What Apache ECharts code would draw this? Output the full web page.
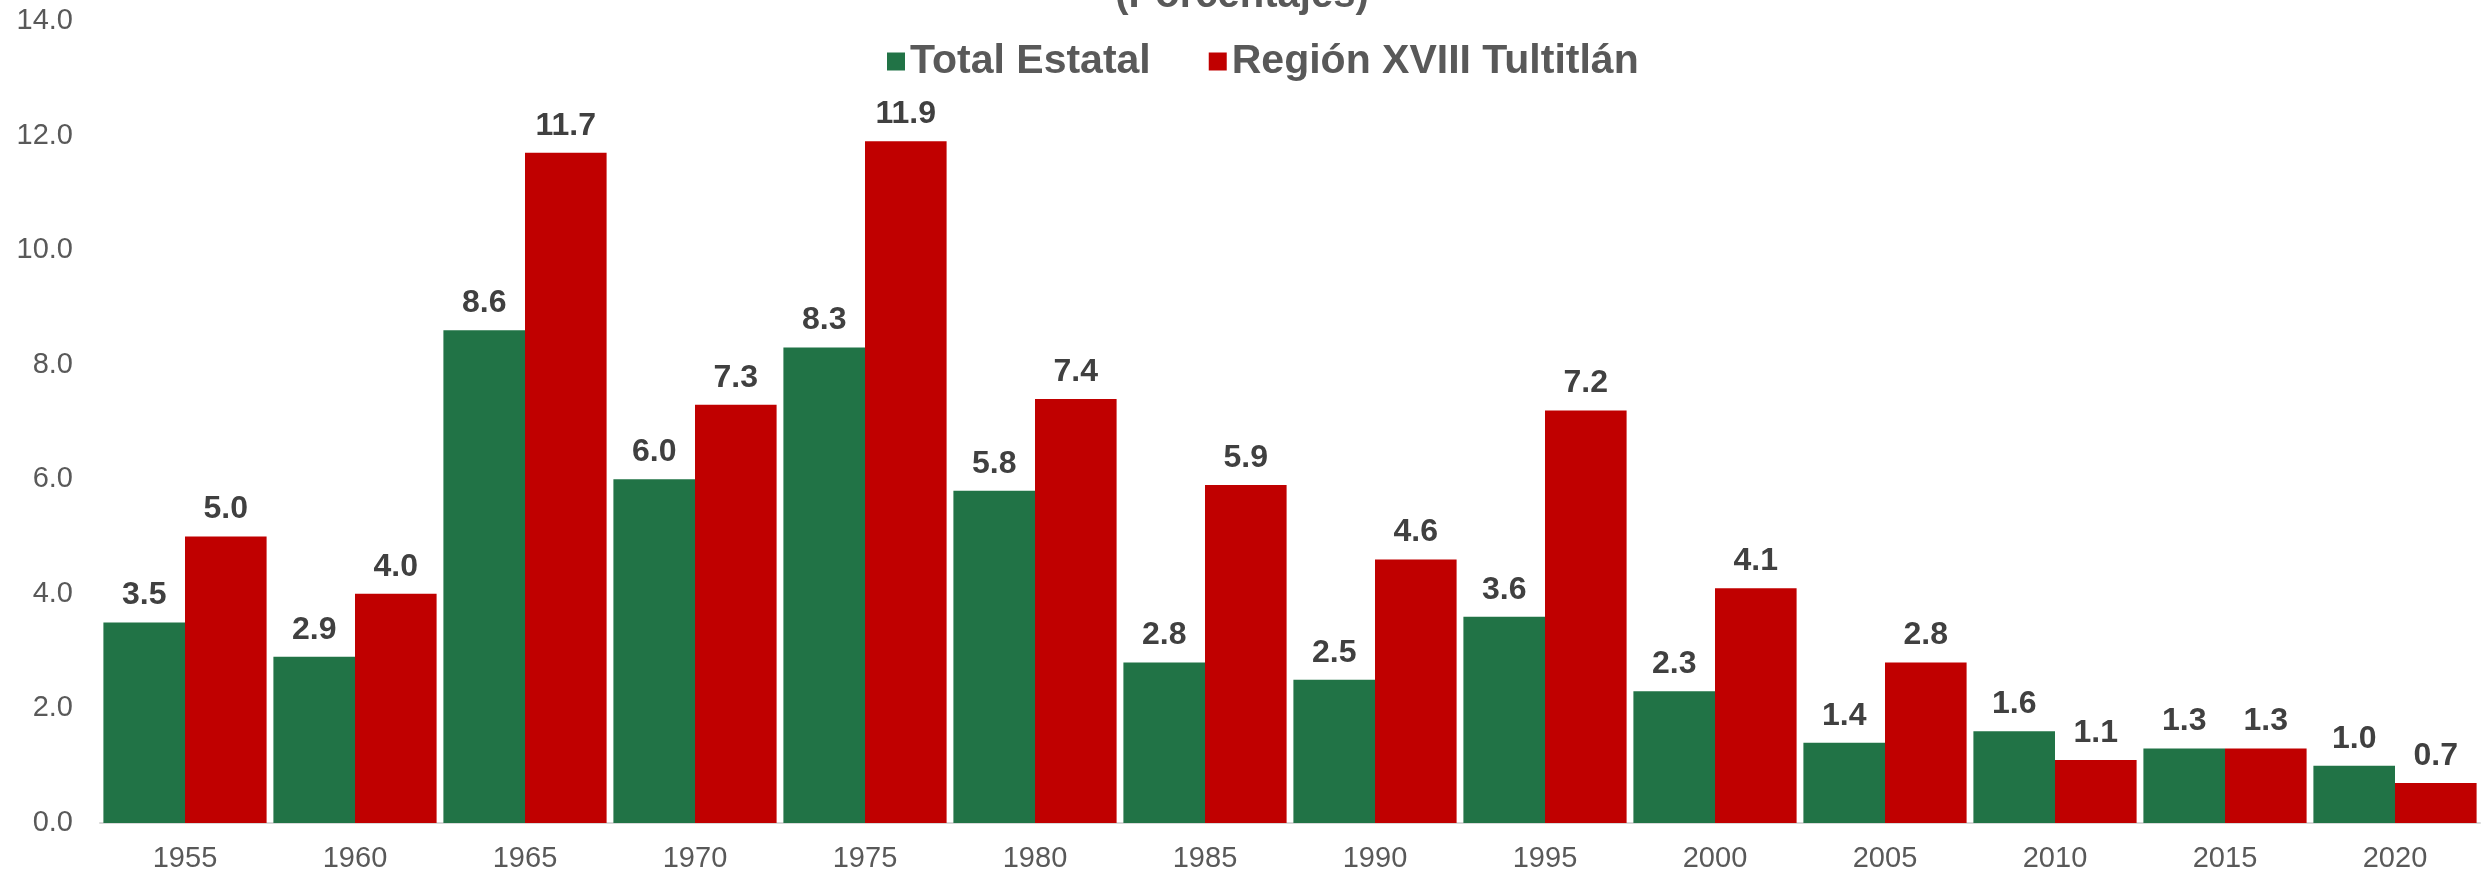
<!DOCTYPE html>
<html>
<head>
<meta charset="utf-8">
<script src="https://cdn.jsdelivr.net/npm/echarts@6/dist/echarts.min.js"></script>
<style>
    html, body { margin: 0; padding: 0; background: #fff; }
    #chart { width: 2484px; height: 873px; }
</style>
</head>
<body>
<div id="chart"></div>
<script>
// años del eje x
var years = ['1955', '1960', '1965', '1970', '1975', '1980', '1985', '1990', '1995', '2000', '2005', '2010', '2015', '2020'];
// series
var totalEstatal = [3.5, 2.9, 8.6, 6.0, 8.3, 5.8, 2.8, 2.5, 3.6, 2.3, 1.4, 1.6, 1.3, 1.0];
var regionTultitlan = [5.0, 4.0, 11.7, 7.3, 11.9, 7.4, 5.9, 4.6, 7.2, 4.1, 2.8, 1.1, 1.3, 0.7];
var seriesNames = ['Total Estatal', 'Región XVIII Tultitlán'];
var colors = ['#217346', '#C00000'];

var font = 'Liberation Sans, Arial, sans-serif';

function barSeries(name, data, color) {
    return {
        name: name,
        type: 'bar',
        data: data,
        barGap: '0%',
        barCategoryGap: '4%',
        itemStyle: { color: color },
        label: {
            show: true,
            position: 'top',
            distance: 11,
            fontFamily: font,
            fontSize: 32,
            fontWeight: 'bold',
            color: '#404040',
            formatter: function (p) { return p.value.toFixed(1); }
        }
    };
}

var chart = echarts.init(document.getElementById('chart'));
var option = {
    animation: false,
    title: {
        text: '(Porcentajes)',
        left: 'center',
        top: -29,
        textStyle: { fontFamily: font, fontSize: 40, fontWeight: 'bold', color: '#595959' }
    },
    legend: {
        data: seriesNames,
        left: 882,
        top: 36,
        itemWidth: 18,
        itemHeight: 18,
        itemGap: 58,
        icon: 'rect',
        textStyle: { fontFamily: font, fontSize: 41, fontWeight: 'bold', color: '#595959' }
    },
    grid: {
        left: 100,
        right: 4,
        top: 21,
        bottom: 49,
        containLabel: false
    },
    xAxis: {
        type: 'category',
        data: years,
        axisLine: { lineStyle: { color: '#D9D9D9', width: 2 } },
        axisTick: { show: false },
        axisLabel: { fontFamily: font, fontSize: 29, color: '#595959', margin: 21 }
    },
    yAxis: {
        type: 'value',
        min: 0,
        max: 14,
        interval: 2,
        splitLine: { show: false },
        axisLine: { show: false },
        axisTick: { show: false },
        axisLabel: {
            fontFamily: font, fontSize: 29, color: '#595959', margin: 27,
            formatter: function (v) { return v.toFixed(1); }
        }
    },
    series: [
        barSeries(seriesNames[0], totalEstatal, colors[0]),
        barSeries(seriesNames[1], regionTultitlan, colors[1])
    ]
};
chart.setOption(option);
</script>
</body>
</html>
